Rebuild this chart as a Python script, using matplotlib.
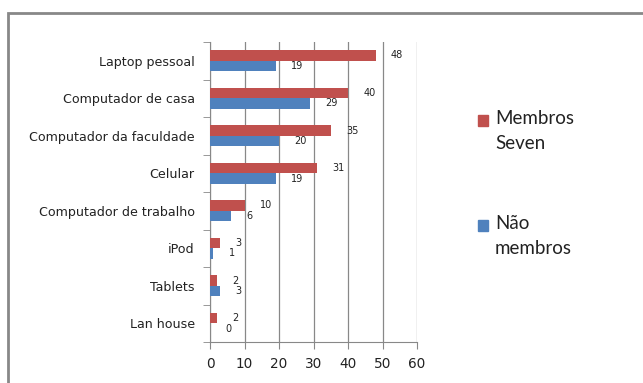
import numpy as np
import matplotlib.pyplot as plt
from matplotlib.patches import Rectangle

categories = ["Laptop pessoal", "Computador de casa", "Computador da faculdade", "Celular",
              "Computador de trabalho", "iPod", "Tablets", "Lan house"]
membros = [48, 40, 35, 31, 10, 3, 2, 2]
nao_membros = [19, 29, 20, 19, 6, 1, 3, 0]
series_names = ['Membros\nSeven', 'Não\nmembros']

red = '#C0504D'
blue = '#4F81BD'

plt.rcParams['font.family'] = ['DejaVu Sans']

fig = plt.figure(figsize=(6.43, 3.83), dpi=100)
ax = fig.add_axes([210/643, 1 - 342/383, 207/643, 300/383])

y = np.arange(len(categories))[::-1]
h = 0.28
ax.barh(y + h/2, membros, height=h, color=red, zorder=3)
ax.barh(y - h/2, nao_membros, height=h, color=blue, zorder=3)

for yi, v in zip(y, membros):
    ax.annotate(str(v), (v, yi + h/2), xytext=(11, 0), textcoords='offset points',
                ha='left', va='center', fontsize=7, color='#222222')
for yi, v in zip(y, nao_membros):
    ax.annotate(str(v), (v, yi - h/2), xytext=(11, 0), textcoords='offset points',
                ha='left', va='center', fontsize=7, color='#222222')

ax.set_xlim(0, 60)
ax.set_ylim(-0.5, len(categories) - 0.5)
ax.set_xticks(range(0, 61, 10))
ax.set_yticks(y)
ax.set_yticklabels(categories, fontsize=9.1, color='#222222')
ax.set_yticks(np.arange(-0.5, len(categories), 1), minor=True)
ax.tick_params(axis='y', which='major', length=0, pad=11)
ax.tick_params(axis='y', which='minor', length=5, color='#888888', direction='out')
ax.tick_params(axis='x', length=5, color='#888888', labelsize=9.8, labelcolor='#222222', pad=6)
ax.grid(axis='x', color='#888888', linewidth=0.9, zorder=0)
for s in ['top', 'right']:
    ax.spines[s].set_visible(False)
for s in ['left', 'bottom']:
    ax.spines[s].set_color('#888888')

# legend, marker aligned with the first line of each label
for name, col, ytop in zip(series_names, [red, blue], [115, 220]):
    fig.patches.append(Rectangle((478/643, 1 - (ytop + 11)/383), 10/643, 11/383,
                                 transform=fig.transFigure, color=col))
    fig.text(495/643, 1 - (ytop - 5)/383, name, fontsize=13.5, family='Lato',
             color='#222222', va='top', ha='left', linespacing=1.55)

fig.patches.append(Rectangle((8/643, -0.1), 1.2, 1 - 13/383 + 0.1, transform=fig.transFigure,
                             fill=False, edgecolor='#888888', linewidth=2))

fig.savefig('out.png', dpi=100)
